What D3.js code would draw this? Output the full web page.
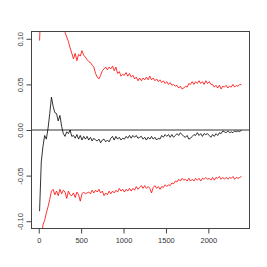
<!DOCTYPE html>
<html><head><meta charset="utf-8">
<script src="https://cdn.jsdelivr.net/npm/d3@7"></script>
<style>html,body{margin:0;padding:0;background:#fff;}svg{display:block;}</style>
</head><body>
<script>
// Sample positions (iteration index), step 20 from 10 to 2390
const sampleStart = 10, sampleStep = 20;
const estimate = [
 -0.089,-0.035,-0.018,-0.006,-0.010, 0.002, 0.018, 0.036, 0.026, 0.019,
  0.018, 0.010, 0.016, 0.004,-0.004,-0.007,-0.002,-0.004, 0.000,-0.007,
 -0.006,-0.009,-0.005,-0.010,-0.006,-0.011,-0.007,-0.010,-0.007,-0.011,
 -0.008,-0.012,-0.009,-0.011,-0.012,-0.010,-0.014,-0.011,-0.010,-0.013,
 -0.011,-0.013,-0.009,-0.007,-0.011,-0.007,-0.010,-0.008,-0.011,-0.009,
 -0.010,-0.007,-0.009,-0.006,-0.009,-0.006,-0.008,-0.006,-0.009,-0.008,
 -0.007,-0.010,-0.008,-0.011,-0.008,-0.010,-0.007,-0.010,-0.008,-0.011,
 -0.009,-0.010,-0.006,-0.008,-0.005,-0.007,-0.005,-0.008,-0.005,-0.008,
 -0.006,-0.004,-0.006,-0.003,-0.005,-0.007,-0.008,-0.006,-0.010,-0.009,
 -0.007,-0.005,-0.006,-0.003,-0.006,-0.004,-0.007,-0.004,-0.005,-0.004,
 -0.006,-0.008,-0.005,-0.007,-0.004,-0.006,-0.003,-0.004,-0.001,-0.002,
 -0.003,-0.001,-0.003,-0.002,-0.003,-0.001,-0.002,-0.001,-0.002, 0.000
];
const upper = [
  0.098, 0.150, 0.170, 0.160, 0.160, 0.155, 0.170, 0.180, 0.170, 0.160,
  0.155, 0.145, 0.140, 0.130, 0.118, 0.107, 0.102, 0.097, 0.090, 0.084,
  0.078, 0.084, 0.076, 0.083, 0.081, 0.087, 0.082, 0.080, 0.077, 0.075,
  0.074, 0.071, 0.069, 0.062, 0.058, 0.056, 0.060, 0.065, 0.067, 0.069,
  0.066, 0.069, 0.067, 0.070, 0.065, 0.069, 0.062, 0.064, 0.059, 0.061,
  0.060, 0.063, 0.059, 0.062, 0.058, 0.060, 0.056, 0.058, 0.054, 0.057,
  0.054, 0.057, 0.055, 0.058, 0.055, 0.059, 0.055, 0.057, 0.054, 0.056,
  0.053, 0.055, 0.052, 0.054, 0.051, 0.053, 0.050, 0.052, 0.049, 0.050,
  0.048, 0.049, 0.046, 0.048, 0.045, 0.046, 0.048, 0.047, 0.051, 0.050,
  0.053, 0.050, 0.053, 0.051, 0.054, 0.051, 0.053, 0.050, 0.054, 0.051,
  0.053, 0.050, 0.050, 0.047, 0.049, 0.046, 0.049, 0.045, 0.048, 0.047,
  0.049, 0.046, 0.048, 0.047, 0.050, 0.047, 0.049, 0.048, 0.050, 0.0495
];
const lower = [
 -0.270,-0.125,-0.104,-0.099,-0.091,-0.084,-0.076,-0.067,-0.065,-0.071,
 -0.067,-0.072,-0.065,-0.070,-0.066,-0.068,-0.075,-0.067,-0.071,-0.072,
 -0.069,-0.074,-0.068,-0.071,-0.078,-0.070,-0.068,-0.070,-0.069,-0.068,
 -0.070,-0.066,-0.069,-0.066,-0.068,-0.065,-0.069,-0.067,-0.072,-0.069,
 -0.071,-0.067,-0.070,-0.067,-0.069,-0.066,-0.068,-0.064,-0.067,-0.065,
 -0.068,-0.065,-0.067,-0.064,-0.067,-0.064,-0.066,-0.062,-0.065,-0.063,
 -0.061,-0.064,-0.061,-0.064,-0.062,-0.064,-0.069,-0.063,-0.061,-0.064,
 -0.062,-0.065,-0.062,-0.063,-0.060,-0.062,-0.060,-0.061,-0.058,-0.059,
 -0.056,-0.057,-0.054,-0.056,-0.053,-0.055,-0.054,-0.056,-0.053,-0.056,
 -0.054,-0.056,-0.053,-0.055,-0.053,-0.056,-0.053,-0.054,-0.052,-0.054,
 -0.053,-0.055,-0.052,-0.055,-0.052,-0.053,-0.051,-0.054,-0.052,-0.054,
 -0.052,-0.054,-0.052,-0.053,-0.051,-0.054,-0.052,-0.053,-0.052,-0.051
];
const xTicks = [0, 500, 1000, 1500, 2000];
const yTicks = [-0.10, -0.05, 0.00, 0.05, 0.10];
const yTickLabels = ["-0.10", "-0.05", "0.00", "0.05", "0.10"];

const W = 267, H = 267;
const box = {l: 31.5, r: 249.5, t: 31.5, b: 228.5};
const xMin = sampleStart, xMax = sampleStart + sampleStep * (estimate.length - 1);
const pad = 0.04 * (xMax - xMin);
const x = d3.scaleLinear().domain([xMin - pad, xMax + pad]).range([box.l, box.r]);
const y = d3.scaleLinear().domain([-0.108, 0.108]).range([box.b, box.t]);

const svg = d3.select("body").append("svg").attr("width", W).attr("height", H);
svg.append("defs").append("clipPath").attr("id", "clip")
  .append("rect").attr("x", box.l).attr("y", box.t)
  .attr("width", box.r - box.l).attr("height", box.b - box.t);

const line = d3.line().x((d, i) => x(sampleStart + i * sampleStep)).y(d => y(d));
const g = svg.append("g").attr("clip-path", "url(#clip)");
g.append("line").attr("x1", box.l).attr("x2", box.r)
  .attr("y1", y(0)).attr("y2", y(0)).attr("stroke", "#333").attr("stroke-width", 1);
g.append("path").datum(upper).attr("d", line).attr("fill", "none").attr("stroke", "#ff0000").attr("stroke-width", 0.8);
g.append("path").datum(lower).attr("d", line).attr("fill", "none").attr("stroke", "#ff0000").attr("stroke-width", 0.8);
g.append("path").datum(estimate).attr("d", line).attr("fill", "none").attr("stroke", "#000").attr("stroke-width", 0.8);

svg.append("rect").attr("x", box.l).attr("y", box.t)
  .attr("width", box.r - box.l).attr("height", box.b - box.t)
  .attr("fill", "none").attr("stroke", "#444").attr("stroke-width", 1);

const font = "'Liberation Sans', Arial, sans-serif";
const xAxis = d3.axisBottom(x).tickValues(xTicks).tickSize(5).tickFormat(d3.format("d"));
const xg = svg.append("g").attr("transform", `translate(0,${box.b})`).call(xAxis);
xg.select(".domain").remove();
xg.selectAll(".tick line").attr("stroke", "#444");
xg.selectAll(".tick text").attr("font-family", font).attr("font-size", 7.5).attr("fill", "#333").attr("dy", "0.71em").attr("y", 9);

const yAxis = d3.axisLeft(y).tickValues(yTicks).tickSize(5).tickFormat((d, i) => yTickLabels[i]);
const yg = svg.append("g").attr("transform", `translate(${box.l},0)`).call(yAxis);
yg.select(".domain").remove();
yg.selectAll(".tick line").attr("stroke", "#444");
yg.selectAll(".tick text").attr("font-family", font).attr("font-size", 7.5).attr("fill", "#333")
  .attr("x", null).attr("dy", null)
  .attr("text-anchor", "middle")
  .attr("transform", "translate(-8.5,0) rotate(-90)");
</script>
</body></html>
